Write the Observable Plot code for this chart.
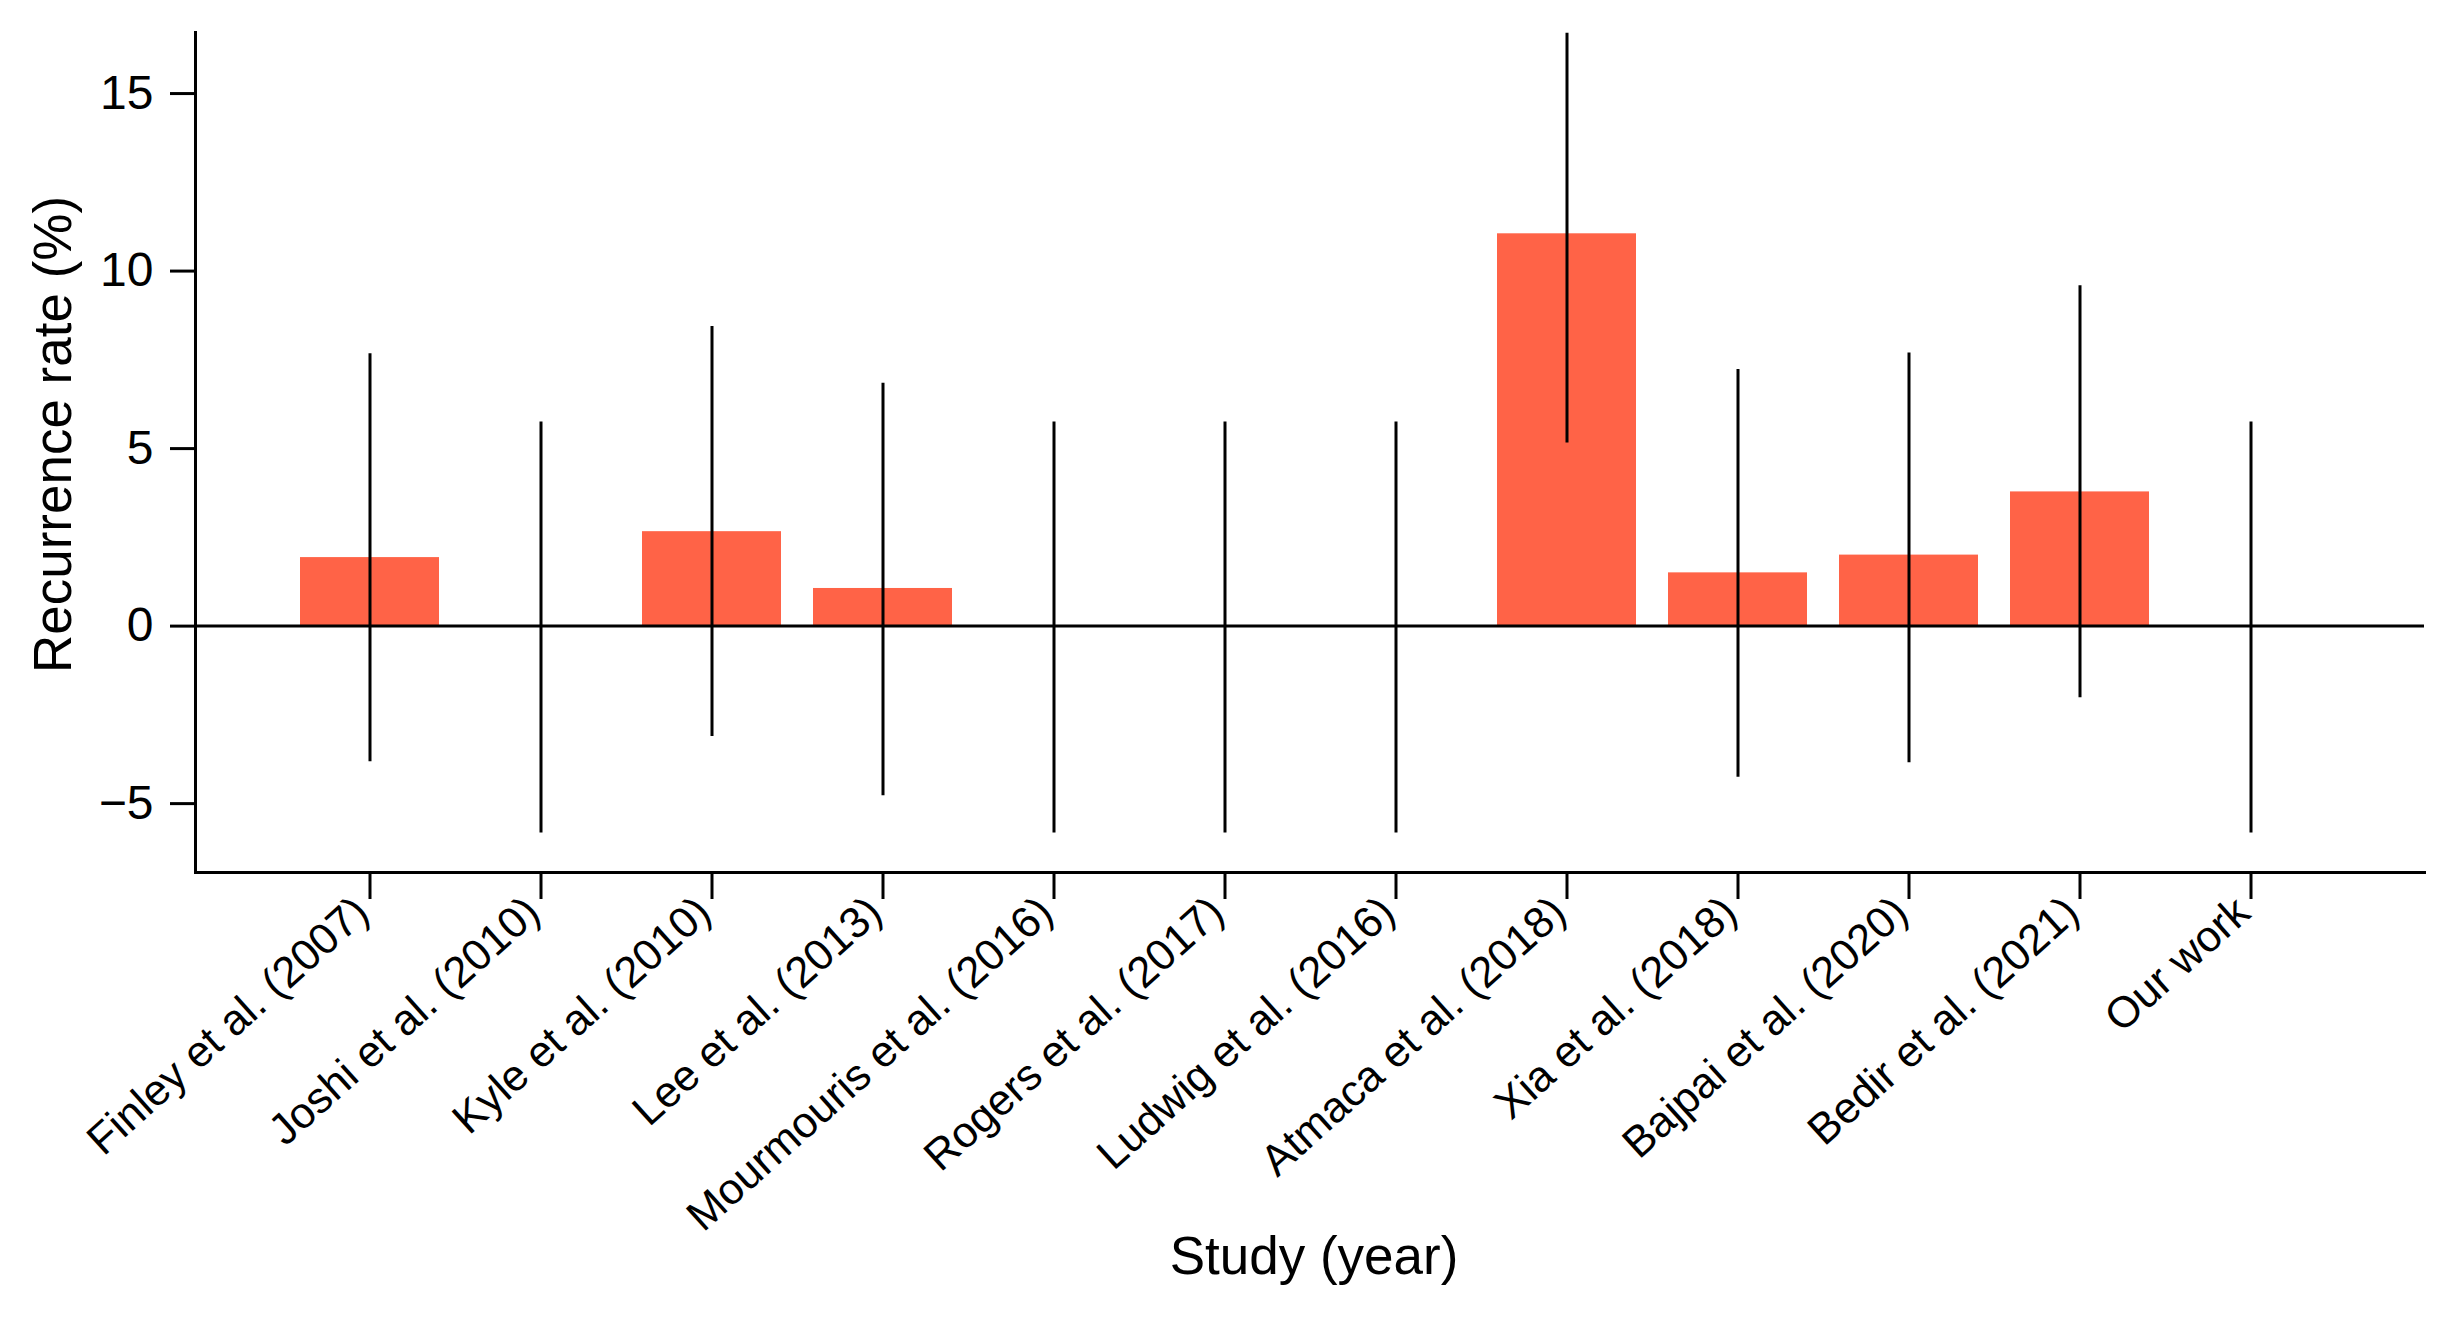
<!DOCTYPE html>
<html>
<head>
<meta charset="utf-8">
<script src="https://cdn.jsdelivr.net/npm/d3@7"></script>
<script src="https://cdn.jsdelivr.net/npm/@observablehq/plot@0.6"></script>
<style>
  html, body { margin: 0; padding: 0; background: #fff; }
  #chart svg { display: block; }
</style>
</head>
<body>
<div id="chart"></div>
<script>
// Categories (x axis tick labels)
const studies = [
  "Finley et al. (2007)",
  "Joshi et al. (2010)",
  "Kyle et al. (2010)",
  "Lee et al. (2013)",
  "Mourmouris et al. (2016)",
  "Rogers et al. (2017)",
  "Ludwig et al. (2016)",
  "Atmaca et al. (2018)",
  "Xia et al. (2018)",
  "Bajpai et al. (2020)",
  "Bedir et al. (2021)",
  "Our work"
];
// Recurrence rate (%)
const rates  = [1.93, 0, 2.66, 1.06, 0, 0, 0, 11.05, 1.50, 2.00, 3.78, 0];
// Error bar lower / upper bounds (%)
const ciLow  = [-3.82, -5.83, -3.11, -4.78, -5.83, -5.83, -5.83, 5.16, -4.26, -3.85, -2.02, -5.83];
const ciHigh = [7.67, 5.75, 8.44, 6.84, 5.75, 5.75, 5.75, 16.70, 7.23, 7.69, 9.59, 5.75];
// Y tick values
const yTicks = [-5, 0, 5, 10, 15];
const yTitle = "Recurrence rate (%)";
const xTitle = "Study (year)";

const data = studies.map((s, i) => ({study: s, rate: rates[i], lo: ciLow[i], hi: ciHigh[i]}));

const chart = Plot.plot({
  width: 2453,
  height: 1318,
  marginLeft: 195,
  marginRight: 29,
  marginTop: 32,
  marginBottom: 446,
  style: {fontFamily: "'Liberation Sans', Arial, sans-serif", color: "black", background: "white"},
  x: {domain: studies, paddingInner: 0.19, paddingOuter: 0.595, align: 0.5},
  y: {domain: [-6.94, 16.72]},
  marks: [
    Plot.barY(data, {x: "study", y: "rate", fill: "#FF6347"}),
    Plot.ruleY([0], {stroke: "black", strokeWidth: 3}),
    Plot.ruleX(data, {x: "study", y1: "lo", y2: "hi", stroke: "black", strokeWidth: 3}),
    Plot.frame({anchor: "left", stroke: "black", strokeWidth: 3}),
    Plot.frame({anchor: "bottom", stroke: "black", strokeWidth: 3}),
    Plot.axisY({ticks: yTicks, tickSize: 25, tickPadding: 17, fontSize: 48, strokeWidth: 3, label: null}),
    Plot.axisX({tickSize: 27, tickFormat: () => "", strokeWidth: 3, label: null}),
    Plot.axisX({tickSize: 0, tickPadding: 33, tickRotate: -42, fontSize: 43.5, label: null, dx: -8}),
    Plot.text([yTitle], {frameAnchor: "left", rotate: -90, dx: -141, dy: -18, fontSize: 53, textAnchor: "middle", lineAnchor: "middle", fill: "black"}),
    Plot.text([xTitle], {frameAnchor: "bottom", dx: 4, dy: 385, fontSize: 53, textAnchor: "middle", lineAnchor: "middle", fill: "black"})
  ]
});
document.getElementById("chart").appendChild(chart);
</script>
</body>
</html>
